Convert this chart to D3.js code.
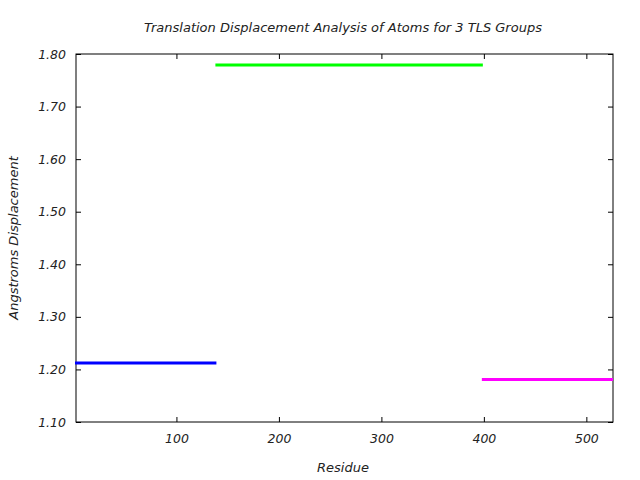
<!DOCTYPE html>
<html><head><meta charset="utf-8">
<script src="https://cdn.jsdelivr.net/npm/d3@7"></script>
<style>
body{margin:0;background:#fff;}
text{font-family:"DejaVu Sans",sans-serif;font-style:italic;fill:#222;}
</style></head>
<body>
<script>
const groups = ["TLS Group 1","TLS Group 2","TLS Group 3"];
const startResidue = [2, 139, 399];
const endResidue = [139, 399, 526];
const displacement = [1.212, 1.779, 1.181];
const colors = ["#0000ff","#00ff00","#ff00ff"];
const xTicks = [100,200,300,400,500];
const yTicks = [1.10,1.20,1.30,1.40,1.50,1.60,1.70,1.80];

const W=640,H=480;
const m={l:76,r:27,t:54,b:58};
const svg=d3.select("body").append("svg").attr("width",W).attr("height",H);
const x=d3.scaleLinear().domain([2,526]).range([m.l,W-m.r]);
const y=d3.scaleLinear().domain([1.10,1.80]).range([H-m.b,m.t]);

const g=svg.append("g");
const tickLen=5;
g.append("g").attr("transform",`translate(0,${H-m.b})`)
 .call(d3.axisBottom(x).tickValues(xTicks).tickSizeInner(-tickLen).tickSizeOuter(0).tickPadding(12).tickFormat(d3.format("d")))
 .call(a=>{a.select(".domain").remove();a.selectAll("text").attr("font-size",12.5).style("font-style","italic");});
g.append("g").attr("transform",`translate(0,${m.t})`)
 .call(d3.axisTop(x).tickValues(xTicks).tickSizeInner(-tickLen).tickSizeOuter(0).tickFormat(""))
 .call(a=>a.select(".domain").remove());
g.append("g").attr("transform",`translate(${m.l},0)`)
 .call(d3.axisLeft(y).tickValues(yTicks).tickSizeInner(-tickLen).tickSizeOuter(0).tickPadding(10).tickFormat(d3.format(".2f")))
 .call(a=>{a.select(".domain").remove();a.selectAll("text").attr("font-size",12.5).style("font-style","italic");});
g.append("g").attr("transform",`translate(${W-m.r},0)`)
 .call(d3.axisRight(y).tickValues(yTicks).tickSizeInner(-tickLen).tickSizeOuter(0).tickFormat(""))
 .call(a=>a.select(".domain").remove());
svg.selectAll(".tick line").attr("stroke","#000");
svg.append("rect").attr("x",m.l).attr("y",m.t).attr("width",W-m.r-m.l).attr("height",H-m.b-m.t)
 .attr("fill","none").attr("stroke","#000").attr("stroke-width",1);

svg.append("g").selectAll("line").data(groups).join("line")
 .attr("x1",(d,i)=>x(startResidue[i])-1).attr("x2",(d,i)=>x(endResidue[i]))
 .attr("y1",(d,i)=>y(displacement[i])).attr("y2",(d,i)=>y(displacement[i]))
 .attr("stroke",(d,i)=>colors[i]).attr("stroke-width",3);

svg.append("text").attr("x",343).attr("y",32).attr("text-anchor","middle").attr("font-size",13)
 .text("Translation Displacement Analysis of Atoms for 3 TLS Groups");
svg.append("text").attr("x",343).attr("y",472).attr("text-anchor","middle").attr("font-size",13).text("Residue");
svg.append("text").attr("transform","translate(18,238) rotate(-90)").attr("text-anchor","middle").attr("font-size",13)
 .text("Angstroms Displacement");
</script>
</body></html>
